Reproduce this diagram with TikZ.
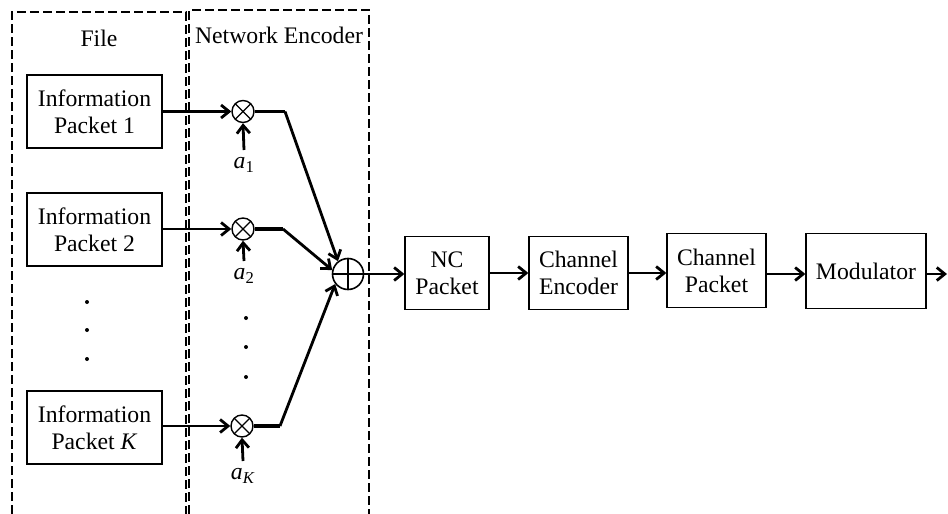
\documentclass[tikz,border=0pt]{standalone}
\usepackage{fontspec}
\setmainfont{Liberation Serif}
\usetikzlibrary{arrows.meta}
\begin{document}
\begin{tikzpicture}[x=1pt,y=-1pt,
  font=\fontsize{23.7}{27}\selectfont,
  blockbox/.style={draw, line width=1.3pt, inner sep=0pt, align=center},
  region/.style={draw, line width=1.1pt, dash pattern=on 9pt off 4pt},
  arr/.style={line width=2.8pt, -{Straight Barb[length=8pt,width=13pt]}},
  thickseg/.style={line width=3.8pt},
  mult/.style={circle, draw, line width=1.4pt, minimum size=22pt, inner sep=0pt,
    path picture={\draw[line width=1.4pt]
      (path picture bounding box.north west) -- (path picture bounding box.south east)
      (path picture bounding box.north east) -- (path picture bounding box.south west);}},
  adder/.style={circle, draw, line width=1.6pt, minimum size=31pt, inner sep=0pt,
    path picture={\draw[line width=1.6pt]
      (path picture bounding box.north) -- (path picture bounding box.south)
      (path picture bounding box.west) -- (path picture bounding box.east);}},
  coef/.style={anchor=north, inner sep=0pt}
]
\useasboundingbox (0,0) rectangle (948,514);

% dashed regions: file and network encoder
\draw[region] (12,514) -- (12,12) -- (186,12) -- (186,514);
\draw[region] (189,514) -- (189,10) -- (369,10) -- (369,514);
\node (filetitle) at (99,38) {File};
\node (enctitle) at (279,35) {Network Encoder};

% information packets
\node[blockbox, minimum width=135pt, minimum height=73pt] (ip1) at (94.5,111.5) {Information\\Packet 1};
\node[blockbox, minimum width=135pt, minimum height=73pt] (ip2) at (94.5,229.5) {Information\\Packet 2};
\node[blockbox, minimum width=135pt, minimum height=73pt] (ipK) at (94.5,427.5) {Information\\Packet \textit{K}};
\foreach \y in {302,330,359} \fill (87,\y) circle (2);

% multipliers with coefficients
\node[mult] (m1) at (243,111.5) {};
\node[mult] (m2) at (243,229) {};
\node[mult] (mK) at (242,426) {};
\node[coef] (a1) at (244,157) {\textit{a}\textsubscript{1}};
\node[coef] (a2) at (244,268) {\textit{a}\textsubscript{2}};
\node[coef] (aK) at (243,468) {\textit{a}\textsubscript{\textit{K}}};
\foreach \y in {318,347,377} \fill (246,\y) circle (2);

\draw[arr] (ip1.east |- m1) -- (m1);
\draw[arr] (ip2.east |- m2) -- (m2);
\draw[arr] (ipK.east |- mK) -- (mK);
\draw[arr] ([yshift=7pt]a1.north) -- (m1.south);
\draw[arr] ([yshift=7pt]a2.north) -- (m2.south);
\draw[arr] ([yshift=7pt]aK.north) -- (mK.south);

% adder
\node[adder] (op) at (348,274) {};
\coordinate (j1) at (285,111.5);
\coordinate (j2) at (283,229);
\coordinate (jK) at (280,426);
\draw[thickseg] (m1.east) -- (j1);
\draw[thickseg] (m2.east) -- (j2);
\draw[thickseg] (mK.east) -- (jK);
\draw[arr] (j1) -- (op.128);
\draw[arr] (j2) -- (op.166);
\draw[arr] (jK) -- (op.218);

% processing chain
\node[blockbox, minimum width=84pt, minimum height=73pt] (nc) at (447,273) {NC\\Packet};
\node[blockbox, minimum width=99pt, minimum height=73pt] (ce) at (578.5,273) {Channel\\Encoder};
\node[blockbox, minimum width=99pt, minimum height=74pt] (cp) at (716.5,270.5) {Channel\\Packet};
\node[blockbox, minimum width=120pt, minimum height=75pt] (mod) at (866,271) {Modulator};
\coordinate (out) at (947,274);

\draw[arr] (op.east) -- (op.east -| nc.west);
\draw[arr] (nc.east) -- (ce.west);
\draw[arr] (ce.east) -- (ce.east -| cp.west);
\draw[arr] (cp.east |- out) -- (mod.west |- out);
\draw[arr] (mod.east |- out) -- (out);
\end{tikzpicture}
\end{document}
